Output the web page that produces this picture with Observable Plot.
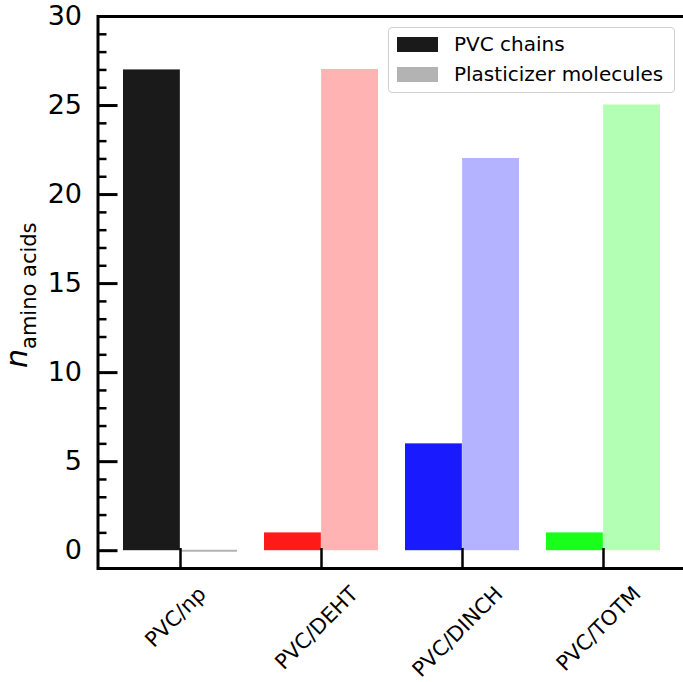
<!DOCTYPE html>
<html><head><meta charset="utf-8">
<script src="https://cdn.jsdelivr.net/npm/d3@7"></script>
<script src="https://cdn.jsdelivr.net/npm/@observablehq/plot@0.6"></script>
<style>
html,body{margin:0;padding:0;background:#fff;overflow:hidden}
#wrap{position:relative;width:683px;height:682px;font-family:"DejaVu Sans",sans-serif;color:#000}
.legend{position:absolute;left:388px;top:27px;width:287px;height:66px;border:1px solid #d0d0d0;border-radius:4px;background:rgba(255,255,255,0.8);box-sizing:border-box}
.item{position:absolute;left:0;height:20px;width:100%}
.sw{position:absolute;left:8px;top:2px;width:41px;height:15px}
.lb{position:absolute;left:65px;top:-2px;font-size:20px;line-height:22px;white-space:nowrap}
</style></head>
<body><div id="wrap"></div>
<script>
const categories = ["PVC/np", "PVC/DEHT", "PVC/DINCH", "PVC/TOTM"];
const pvcChains = [27, 1, 6, 1];
const plasticizerMolecules = [0, 27, 22, 25];
const chainColors = ["#1a1a1a", "#ff1a1a", "#1a1aff", "#1aff1a"];
const plasticizerColors = ["#b3b3b3", "#ffb3b3", "#b3b3ff", "#b3ffb3"];
const majorTicks = [0, 5, 10, 15, 20, 25, 30];
const minorTicks = [1, 2, 3, 4, 6, 7, 8, 9, 11, 12, 13, 14, 16, 17, 18, 19, 21, 22, 23, 24, 26, 27, 28, 29];
const seriesNames = ["PVC chains", "Plasticizer molecules"];
const legendColors = ["#1a1a1a", "#b3b3b3"];
const yLabelMain = "n";
const yLabelSub = "amino acids";

const rows = categories.map((c, i) => ({
  category: c, chains: pvcChains[i], plast: plasticizerMolecules[i],
  chainColor: chainColors[i], plastColor: plasticizerColors[i]
}));

const W = 683, H = 682, mL = 97.5, mT = 16, mB = 114, mR = -3;
const pIn = 0.19, pOut = 0.18;
const half = d3.scaleBand().domain(categories).range([mL, W - mR]).paddingInner(pIn).paddingOuter(pOut).bandwidth() / 2;

const plot = Plot.plot({
  width: W, height: H,
  marginLeft: mL, marginTop: mT, marginBottom: mB, marginRight: mR,
  style: {fontFamily: "DejaVu Sans", fontSize: "20px", color: "black", background: "white", overflow: "hidden"},
  x: {type: "band", domain: categories, paddingInner: pIn, paddingOuter: pOut, align: 0.5, axis: null},
  y: {domain: [-1, 30], axis: null},
  color: {type: "identity"},
  marks: [
    Plot.tickY(rows, {x: "category", y: "plast", stroke: "plastColor", strokeWidth: 2, insetLeft: half}),
    Plot.barY(rows, {x: "category", y: "chains", fill: "chainColor", insetRight: half}),
    Plot.barY(rows, {x: "category", y: "plast", fill: "plastColor", insetLeft: half}),
    Plot.frame({stroke: "black", strokeWidth: 3}),
    Plot.axisY(minorTicks, {tickSize: -9, strokeWidth: 2.5, fill: "none", label: null}),
    Plot.axisY(majorTicks, {tickSize: -20, strokeWidth: 3, fill: "none", label: null}),
    Plot.axisY(majorTicks, {tickSize: 0, tickPadding: 16, fontSize: 27, label: null}),
    Plot.axisX({tickSize: -20, strokeWidth: 2.5, fill: "none", label: null}),
    Plot.text(categories, {x: d => d, frameAnchor: "bottom", rotate: -45, fontSize: 21})
  ]
});

const wrap = document.getElementById("wrap");
wrap.appendChild(plot);

// matplotlib-style placement of rotated x labels: centred on tick, bbox top fixed
d3.select(plot).selectAll('g[aria-label="text"] text').each(function () {
  const tr = this.getAttribute("transform") || "";
  const m = tr.match(/translate\(([-\d.]+),\s*([-\d.]+)\)/);
  if (!m) return;
  const L = this.getComputedTextLength();
  const cy = 588 + (L + 19) / (2 * Math.SQRT2);
  this.setAttribute("transform", `translate(${m[1]},${cy}) rotate(-45)`);
});

// y axis label with subscript
const yl = d3.select(plot).append("text")
  .attr("transform", "translate(27,368) rotate(-90)")
  .attr("text-anchor", "start")
  .attr("fill", "black").attr("font-family", "DejaVu Sans");
yl.append("tspan").attr("font-style", "italic").attr("font-size", 30).text(yLabelMain);
yl.append("tspan").attr("font-size", 21).attr("dy", 9).text(yLabelSub);

// legend
const lg = document.createElement("div");
lg.className = "legend";
seriesNames.forEach((name, i) => {
  const it = document.createElement("div");
  it.className = "item";
  it.style.top = (7 + i * 30) + "px";
  it.innerHTML = `<div class="sw" style="background:${legendColors[i]}"></div><div class="lb"></div>`;
  it.querySelector(".lb").textContent = name;
  lg.appendChild(it);
});
wrap.appendChild(lg);
</script>
</body></html>
